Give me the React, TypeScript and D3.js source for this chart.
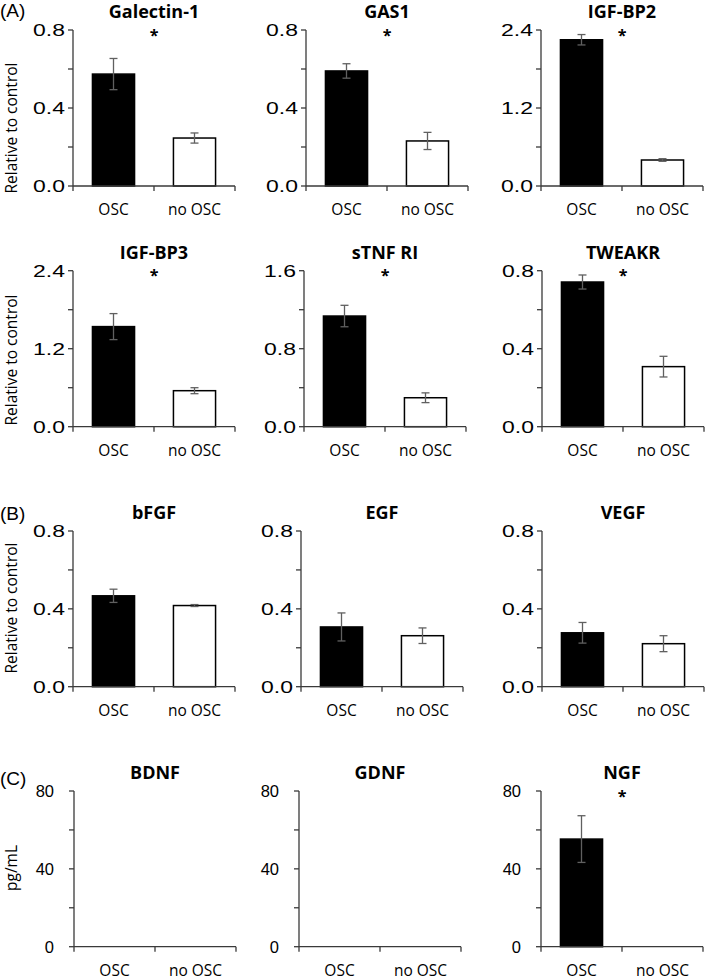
import React from "react";
import * as d3 from "d3";

const groups = ["OSC", "no OSC"];
const panelTitles = ["Galectin-1", "GAS1", "IGF-BP2", "IGF-BP3", "sTNF RI", "TWEAKR", "bFGF", "EGF", "VEGF", "BDNF", "GDNF", "NGF"];
const oscValues = [0.574, 0.59, 2.25, 1.54, 1.135, 0.742, 0.467, 0.307, 0.277, 0, 0, 55.3];
const oscErrors = [0.08, 0.037, 0.08, 0.2, 0.11, 0.036, 0.034, 0.072, 0.053, 0, 0, 12];
const noOscValues = [0.246, 0.231, 0.4, 0.554, 0.297, 0.308, 0.417, 0.262, 0.221, 0, 0, 0];
const noOscErrors = [0.026, 0.044, 0.02, 0.046, 0.05, 0.053, 0.005, 0.04, 0.041, 0, 0, 0];
const yMaxima = [0.8, 0.8, 2.4, 2.4, 1.6, 0.8, 0.8, 0.8, 0.8, 80, 80, 80];
const significant = [true, true, true, true, true, true, false, false, false, false, false, true];
const sectionLabels = ["(A)", "", "(B)", "(C)"];
const rowYTitles = ["Relative to control", "Relative to control", "Relative to control", "pg/mL"];

// layout
const rowTop = [30, 270.7, 531, 791];
const rowZero = [186, 426.7, 686.7, 946.7];
const colAxisX = [
  [73, 306, 541],
  [73, 304, 542],
  [73, 301, 542],
  [74, 299, 541],
];
const rowYTitleCenter = [128, 360, 608, 868];
const sectionLabelBaseline = [17, 0, 520, 785];
const plotW = 162;
const tickFont = "'Liberation Sans', Arial, sans-serif";
const textFont = "'Open Sans', sans-serif";
const axisColor = "#3a3a3a";

function Panel({ idx }: { idx: number }) {
  const row = Math.floor(idx / 3);
  const col = idx % 3;
  const ax = colAxisX[row][col];
  const top = rowTop[row];
  const zero = rowZero[row];
  const max = yMaxima[idx];
  const x = d3.scaleBand().domain(groups).range([ax, ax + plotW]).padding(0);
  const y = d3.scaleLinear().domain([0, max]).range([zero, top]);
  const bw = x.bandwidth();
  const barW = bw * 0.52;
  const vals = [oscValues[idx], noOscValues[idx]];
  const errs = [oscErrors[idx], noOscErrors[idx]];
  const ticks = d3.range(0, 5).map((i) => (max * i) / 4);
  const fmt = max >= 10 ? d3.format("d") : d3.format(".1f");
  const bigTicks = row < 3;
  const tickFs = bigTicks ? 17 : 16.5;
  const tickScale = bigTicks ? 1.35 : 1;
  const tickGap = bigTicks ? 8 : 20;
  const cx = ax + plotW / 2;
  return (
    <g>
      <text x={cx} y={top - 12} textAnchor="middle" fontFamily={textFont} fontWeight={700} fontSize={18} fill="#000">
        {panelTitles[idx]}
      </text>
      {significant[idx] && (
        <text x={cx} y={top + 10.5} textAnchor="middle" fontFamily={textFont} fontWeight={700} fontSize={16} fill="#000">
          *
        </text>
      )}
      {groups.map((g, i) => {
        const v = vals[i];
        if (!(v > 0)) return null;
        const bx = (x(g) as number) + (bw - barW) / 2;
        return (
          <rect key={g} x={bx} y={y(v)} width={barW} height={zero - y(v)} fill={i === 0 ? "#000" : "#fff"} stroke="#000" strokeWidth={1.5} />
        );
      })}
      {groups.map((g, i) => {
        const v = vals[i];
        const e = errs[i];
        if (!(v > 0) || !(e > 0)) return null;
        const ex = (x(g) as number) + bw / 2;
        return (
          <g key={g} stroke="#606060" strokeWidth={1.3}>
            <line x1={ex} x2={ex} y1={y(v - e)} y2={y(v + e)} />
            <line x1={ex - 4} x2={ex + 4} y1={y(v - e)} y2={y(v - e)} />
            <line x1={ex - 4} x2={ex + 4} y1={y(v + e)} y2={y(v + e)} />
          </g>
        );
      })}
      <line x1={ax} x2={ax} y1={top} y2={zero} stroke={axisColor} strokeWidth={1.3} />
      <line x1={ax} x2={ax + plotW} y1={zero} y2={zero} stroke={axisColor} strokeWidth={1.3} />
      {ticks.map((t) => (
        <line key={t} x1={ax - 5} x2={ax} y1={y(t)} y2={y(t)} stroke={axisColor} strokeWidth={1.3} />
      ))}
      {[0, 1, 2].map((k) => (
        <line key={k} x1={ax + k * bw} x2={ax + k * bw} y1={zero} y2={zero + 5} stroke={axisColor} strokeWidth={1.3} />
      ))}
      {ticks
        .filter((_, i) => i % 2 === 0)
        .map((t) => (
          <text
            key={t}
            transform={`translate(${ax - tickGap},${y(t) + tickFs * 0.36}) scale(${tickScale},1)`}
            textAnchor="end"
            fontFamily={tickFont}
            fontSize={tickFs}
            fill="#000"
          >
            {fmt(t)}
          </text>
        ))}
      {groups.map((g) => (
        <text key={g} x={(x(g) as number) + bw / 2} y={zero + 29} textAnchor="middle" fontFamily={textFont} fontSize={15.5} fill="#000">
          {g}
        </text>
      ))}
    </g>
  );
}

export default function App() {
  return (
    <svg width={709} height={980} style={{ position: "absolute", left: 0, top: 0, background: "#fff" }}>
      <rect width={709} height={980} fill="#fff" />
      {rowYTitles.map((t, r) => (
        <text
          key={r}
          transform={`translate(17,${rowYTitleCenter[r]}) rotate(-90)`}
          textAnchor="middle"
          fontFamily={textFont}
          fontSize={15.5}
          fill="#000"
        >
          {t}
        </text>
      ))}
      {sectionLabels.map((s, r) =>
        s ? (
          <text key={r} x={0} y={sectionLabelBaseline[r]} fontFamily={tickFont} fontSize={19} fill="#000">
            {s}
          </text>
        ) : null
      )}
      {panelTitles.map((_, i) => (
        <Panel key={i} idx={i} />
      ))}
    </svg>
  );
}
